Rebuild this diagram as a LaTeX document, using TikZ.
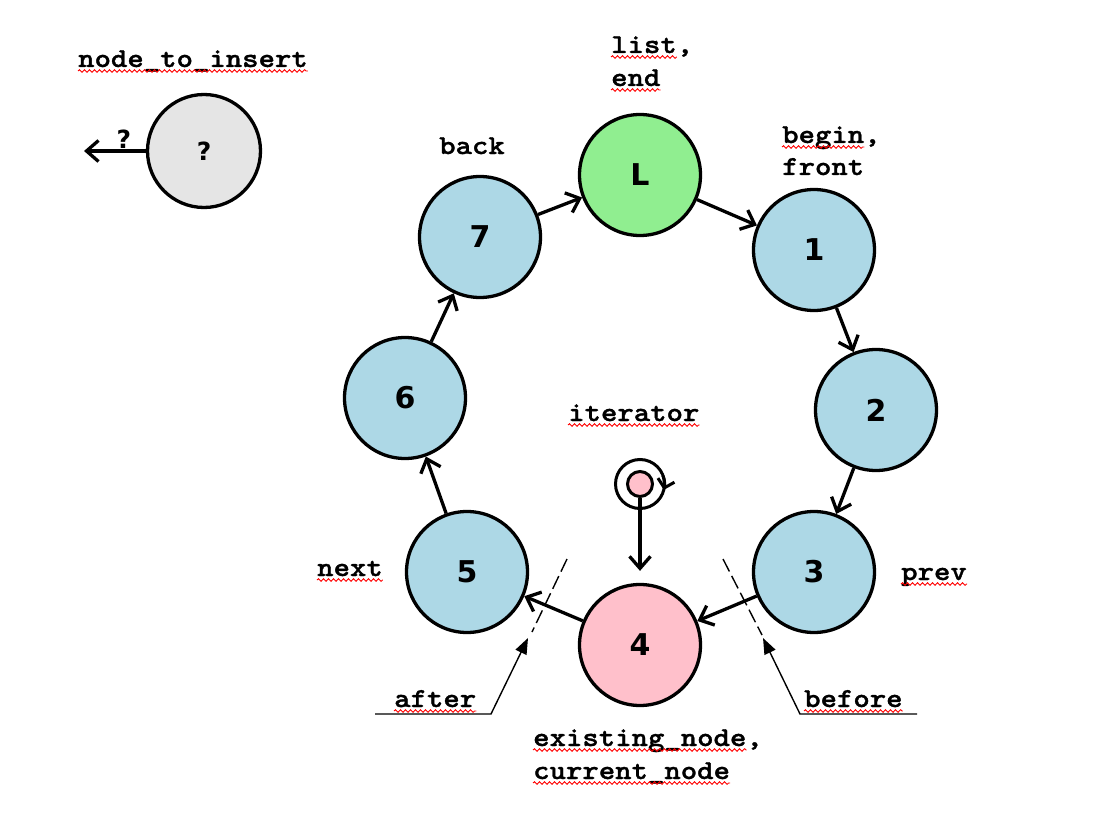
\documentclass[tikz,border=0pt]{standalone}
\usepackage{fontspec}
\newfontfamily\cour[FakeStretch=1.14,FakeBold=1.2]{lmmonolt10-bold.otf}
\newfontfamily\numfont{DejaVu Sans}
\usetikzlibrary{arrows.meta,decorations.pathmorphing,calc}
\newcommand\squigline[2]{\draw[squig] ($(#1.base west)+(0,4)$) -- ($(#1.base west)!#2!(#1.base east)+(0,4)$);}
\begin{document}
\begin{tikzpicture}[x=1pt,y=-1pt,
  ball/.style={circle, draw, line width=3.3pt, minimum size=121pt, inner sep=0pt,
    font=\numfont\bfseries\fontsize{30}{30}\selectfont},
  lbl/.style={inner sep=0pt, anchor=base west, font=\cour\fontsize{27.4}{30}\selectfont},
  link/.style={line width=3.3pt, -{Straight Barb[length=12pt,width=21pt]}},
  squig/.style={red, line width=0.9pt, decorate, decoration={snake, amplitude=1.3pt, segment length=5pt}},
  cut/.style={line width=1.4pt, dash pattern=on 14pt off 5pt},
  callout/.style={line width=1.4pt, -{Triangle[length=16pt,width=12pt]}}]
\useasboundingbox (0,0) rectangle (1098,824);

% list nodes
\node[ball, fill={rgb,255:red,144;green,238;blue,144}] (L) at (640,175) {L};
\node[ball, fill={rgb,255:red,173;green,216;blue,230}] (n1) at (814,250) {1};
\node[ball, fill={rgb,255:red,173;green,216;blue,230}] (n2) at (876,410) {2};
\node[ball, fill={rgb,255:red,173;green,216;blue,230}] (n3) at (814,572) {3};
\node[ball, fill={rgb,255:red,255;green,192;blue,203}] (n4) at (640,645) {4};
\node[ball, fill={rgb,255:red,173;green,216;blue,230}] (n5) at (467,572) {5};
\node[ball, fill={rgb,255:red,173;green,216;blue,230}] (n6) at (405,398) {6};
\node[ball, fill={rgb,255:red,173;green,216;blue,230}] (n7) at (480,237) {7};

\draw[link] (L) -- (n1);
\draw[link] (n1) -- (n2);
\draw[link] (n2) -- (n3);
\draw[link] (n3) -- (n4);
\draw[link] (n4) -- (n5);
\draw[link] (n5) -- (n6);
\draw[link] (n6) -- (n7);
\draw[link] (n7) -- (L);

% node to insert
\node[ball, minimum size=113pt, fill={rgb,255:red,229;green,229;blue,229},
  font=\numfont\bfseries\fontsize{25}{25}\selectfont] (q) at (204,151) {?};
\coordinate (qend) at (84,151);
\draw[link] (q) -- (qend);
\node[inner sep=0pt, font=\numfont\bfseries\fontsize{25}{25}\selectfont] (qlbl) at (124,139) {?};

% iterator
\node[circle, draw, line width=3pt, minimum size=49pt, inner sep=0pt] (itring) at (640,484) {};
\node[circle, draw, line width=3pt, minimum size=25pt, inner sep=0pt,
  fill={rgb,255:red,255;green,192;blue,203}] (it) at (640,484) {};
\draw[line width=3pt, -{Straight Barb[length=8pt,width=17pt]}]
  ($(itring.center)+(-20:24.5)$) arc (-20:14:24.5);
\draw[link, shorten >=12pt] (it) -- (n4);

% before / after cuts
\coordinate (aTop) at (567,559); \coordinate (aBot) at (532,632);
\coordinate (bTop) at (723,559); \coordinate (bBot) at (762,635);
\draw[cut] (aTop) -- (aBot);
\draw[cut] (bTop) -- (bBot);
\coordinate (aStart) at (375,714); \coordinate (aCorner) at (491,714); \coordinate (aTip) at (528,638);
\coordinate (bStart) at (917,714); \coordinate (bCorner) at (800,714); \coordinate (bTip) at (763,638);
\draw[callout] (aStart) -- (aCorner) -- (aTip);
\draw[callout] (bStart) -- (bCorner) -- (bTip);

% labels
\node[lbl] (tIns) at (78,67) {node\_to\_insert};
\node[lbl] (tList) at (611,53) {list,};
\node[lbl] (tEnd) at (611,86) {end};
\node[lbl] (tBegin) at (782,143) {begin,};
\node[lbl] (tFront) at (782,175) {front};
\node[lbl] (tBack) at (439,154) {back};
\node[lbl] (tIter) at (568,421) {iterator};
\node[lbl] (tNext) at (317,576) {next};
\node[lbl] (tPrev) at (901,580) {prev};
\node[lbl] (tAfter) at (394,707) {after};
\node[lbl] (tBefore) at (804,707) {before};
\node[lbl] (tExist) at (533,746) {existing\_node,};
\node[lbl] (tCur) at (533,779) {current\_node};

\squigline{tIns}{1}
\squigline{tList}{0.8}
\squigline{tEnd}{1}
\squigline{tBegin}{0.833}
\squigline{tIter}{1}
\squigline{tNext}{1}
\squigline{tPrev}{1}
\squigline{tAfter}{1}
\squigline{tBefore}{1}
\squigline{tExist}{0.9286}
\squigline{tCur}{1}
\end{tikzpicture}
\end{document}
